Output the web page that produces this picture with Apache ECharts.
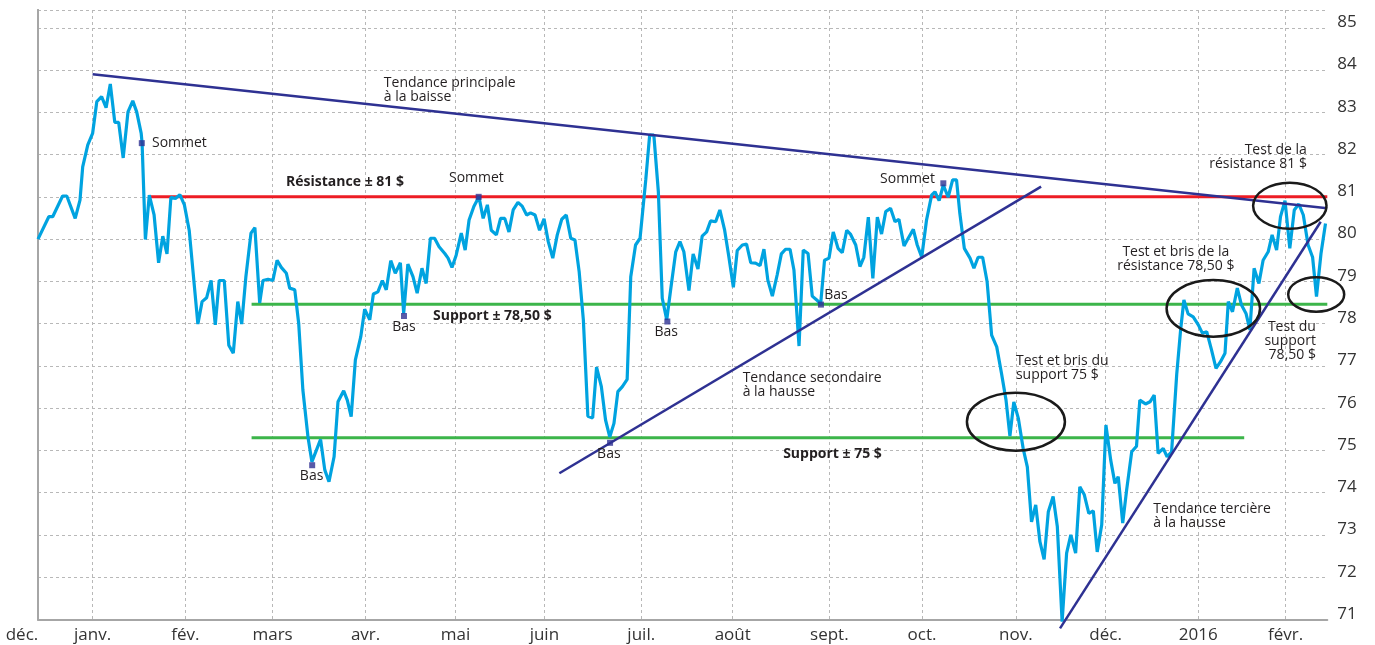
<!DOCTYPE html>
<html>
<head>
<meta charset="utf-8">
<script src="https://cdn.jsdelivr.net/npm/echarts@6/dist/echarts.min.js"></script>
<style>
  html, body { margin: 0; padding: 0; background: #fff; }
  #main { width: 1375px; height: 645px; }
</style>
</head>
<body>
<div id="main"></div>
<script>
// x : jours depuis le bord gauche du graphique (mi-décembre 2014), y : cours en $
var jours = [
  0, 3.6, 4.9, 8.2, 9.6, 12.4, 14.0, 14.9, 16.6, 18.2,
  19.6, 21.2, 22.7, 24.1, 25.6, 26.9, 28.4, 30.0, 31.6, 32.9,
  34.4, 34.7, 35.8, 37.1, 38.7, 40.2, 41.6, 43.0, 44.3, 45.8,
  47.3, 48.8, 50.4, 53.3, 54.7, 56.2, 57.7, 59.1, 60.4, 62.1,
  63.6, 65.1, 66.6, 67.9, 69.3, 71.0, 72.3, 73.9, 75.0, 76.7,
  78.3, 79.7, 81.1, 82.8, 83.9, 85.6, 86.9, 88.3, 90.0, 91.3,
  94.2, 95.6, 97.0, 98.7, 100.0, 101.9, 103.1, 104.4, 105.8, 107.6,
  108.9, 110.6, 111.8, 113.3, 114.8, 116.1, 117.6, 119.1, 120.8, 121.9,
  123.3, 125.0, 126.4, 128.0, 129.4, 130.8, 132.2, 133.7, 135.6, 136.7,
  138.0, 139.4, 141.1, 142.4, 143.7, 145.3, 147.0, 148.4, 149.8, 151.1,
  152.8, 154.2, 155.6, 157.0, 158.4, 160.0, 161.4, 162.9, 164.2, 165.7,
  167.2, 168.7, 170.1, 171.6, 173.1, 174.6, 176.1, 177.6, 179.0, 180.4,
  181.8, 183.3, 184.9, 186.2, 187.8, 189.2, 190.6, 192.0, 193.3, 194.8,
  196.4, 197.6, 199.2, 200.7, 202.6, 203.9, 205.3, 206.8, 208.1, 209.6,
  210.9, 212.6, 214.0, 215.3, 217.0, 218.4, 220.0, 221.4, 222.9, 224.2,
  225.9, 227.3, 228.9, 230.3, 231.8, 233.1, 234.8, 236.2, 237.6, 239.2,
  240.7, 242.0, 243.3, 244.8, 246.4, 247.8, 249.2, 250.7, 252.0, 253.7,
  255.1, 256.7, 258.1, 259.6, 260.9, 262.2, 263.7, 265.1, 266.7, 268.1,
  269.6, 270.9, 272.6, 274.0, 275.3, 276.8, 278.3, 279.8, 281.2, 282.6,
  284.2, 285.7, 287.0, 288.7, 290.1, 291.8, 293.1, 294.6, 296.2, 297.9,
  299.0, 300.4, 301.8, 303.4, 304.9, 306.2, 307.3, 308.8, 310.7, 312.0,
  313.4, 314.9, 316.4, 317.9, 319.6, 321.2, 322.7, 324.0, 325.3, 326.8,
  328.4, 329.8, 331.2, 332.6, 334.0, 335.4, 336.8, 338.4, 339.8, 341.4,
  342.9, 344.3, 345.9, 347.3, 348.8, 350.3, 351.8, 353.1, 354.6, 356.0,
  357.6, 359.0, 360.1, 361.6, 362.9, 364.6, 366.2, 367.3, 369.2, 370.7,
  372.1, 373.4, 375.1, 376.4, 377.9, 379.6, 380.9, 382.0, 383.4, 385.1,
  386.8, 388.2, 389.6, 391.2, 392.7, 394.2, 395.7, 396.8, 398.2, 399.8,
  401.2, 402.7, 404.0, 405.4, 407.0, 408.4, 410.1, 411.4, 412.9, 414.2,
  415.7, 417.3, 418.8, 420.3, 421.8, 423.4, 424.9, 426.2, 427.7, 429.2
];
var cours = [
  80.0, 80.53, 80.53, 81.02, 81.02, 80.49, 80.92, 81.71, 82.23, 82.50,
  83.25, 83.37, 83.11, 83.67, 82.76, 82.76, 81.92, 83.01, 83.27, 83.01,
  82.50, 82.27, 79.99, 81.04, 80.57, 79.44, 80.07, 79.65, 80.99, 80.96,
  81.05, 80.81, 80.21, 77.99, 78.52, 78.61, 79.02, 77.97, 79.02, 79.02,
  77.49, 77.30, 78.52, 77.99, 79.11, 80.14, 80.27, 78.49, 79.02, 79.05,
  79.02, 79.50, 79.33, 79.19, 78.84, 78.80, 78.01, 76.43, 75.32, 74.73,
  75.26, 74.54, 74.26, 74.85, 76.15, 76.41, 76.19, 75.80, 77.14, 77.69,
  78.34, 78.09, 78.70, 78.75, 79.02, 78.80, 79.49, 79.19, 79.44, 78.24,
  79.41, 79.11, 78.72, 79.31, 78.95, 80.02, 80.02, 79.82, 79.66, 79.55,
  79.33, 79.62, 80.14, 79.74, 80.45, 80.77, 81.00, 80.49, 80.81, 80.21,
  80.10, 80.49, 80.49, 80.17, 80.69, 80.87, 80.78, 80.57, 80.62, 80.57,
  80.21, 80.48, 79.94, 79.55, 80.10, 80.47, 80.57, 80.02, 79.98, 79.23,
  78.09, 75.81, 75.77, 76.97, 76.51, 75.72, 75.32, 75.64, 76.39, 76.51,
  76.68, 79.11, 79.86, 80.02, 81.40, 82.46, 82.46, 81.12, 78.60, 78.09,
  78.80, 79.70, 79.94, 79.70, 78.78, 79.65, 79.29, 80.07, 80.17, 80.43,
  80.41, 80.69, 80.21, 79.58, 78.86, 79.73, 79.86, 79.88, 79.44, 79.43,
  79.37, 79.76, 79.03, 78.65, 79.15, 79.65, 79.76, 79.76, 79.27, 77.47,
  79.74, 79.66, 78.65, 78.56, 78.46, 79.50, 79.55, 80.17, 79.78, 79.68,
  80.21, 80.11, 79.86, 79.35, 79.57, 80.52, 79.07, 80.52, 80.12, 80.65,
  80.73, 80.41, 80.47, 79.84, 80.02, 80.23, 79.86, 79.57, 80.45, 81.04,
  81.12, 80.91, 81.28, 80.99, 81.40, 81.40, 80.61, 79.78, 79.55, 79.31,
  79.57, 79.57, 78.99, 77.73, 77.45, 76.82, 76.19, 75.34, 76.15, 75.76,
  75.05, 74.61, 73.31, 73.71, 72.84, 72.42, 73.55, 73.91, 73.20, 70.95,
  72.57, 73.00, 72.57, 74.14, 73.95, 73.51, 73.57, 72.60, 73.24, 75.60,
  74.77, 74.22, 74.38, 73.28, 74.06, 74.97, 75.10, 76.19, 76.10, 76.15,
  76.31, 74.93, 75.05, 74.85, 74.97, 76.80, 77.85, 78.56, 78.23, 78.16,
  77.97, 77.77, 77.81, 77.38, 76.94, 77.10, 77.30, 78.52, 78.28, 78.84,
  78.44, 78.24, 77.85, 79.31, 78.95, 79.50, 79.70, 80.10, 79.74, 80.53,
  80.91, 79.78, 80.69, 80.83, 80.57, 79.86, 79.57, 78.64, 79.66, 80.37
];

// débuts de mois sur l'axe des x
var moisPos = [18.2, 49.1, 78.2, 109.2, 139.2, 168.8, 201.1, 231.6, 263.8, 294.7, 326.0, 355.9, 386.8, 415.9];
var moisNoms = ['janv.', 'fév.', 'mars', 'avr.', 'mai', 'juin', 'juil.', 'août', 'sept.', 'oct.', 'nov.', 'déc.', '2016', 'févr.'];

// niveaux et tendances
var resistance81 = [[37, 81], [429.8, 81]];
var support7850 = [[71.2, 78.46], [429.8, 78.46]];
var support75 = [[71.2, 75.3], [402.1, 75.3]];
var tendPrincipale = [[18.2, 83.9], [429.8, 80.73]];
var tendSecondaire = [[173.8, 74.46], [334.4, 81.24]];
var tendTertiaire = [[340.7, 70.79], [427.6, 80.41]];

// points « Sommet » et « Bas »
var reperes = [[34.6, 82.27], [146.9, 81.0], [301.8, 81.32], [91.4, 74.65], [122.0, 78.18], [209.8, 78.05], [190.7, 75.18], [261.0, 78.45]];

// textes : [x, y, texte, alignement, gras]
var notes = [
  [38.0, 82.27, 'Sommet', 'left', false],
  [115.3, 83.53, 'Tendance principale\nà la baisse', 'left', false],
  [82.7, 81.35, 'Résistance ± 81 $', 'left', true],
  [137.0, 81.445, 'Sommet', 'left', false],
  [299.0, 81.41, 'Sommet', 'right', false],
  [91.2, 74.39, 'Bas', 'center', false],
  [122.0, 77.93, 'Bas', 'center', false],
  [131.7, 78.18, 'Support ± 78,50 $', 'left', true],
  [209.4, 77.80, 'Bas', 'center', false],
  [190.3, 74.92, 'Bas', 'center', false],
  [262.1, 78.68, 'Bas', 'left', false],
  [234.9, 76.55, 'Tendance secondaire\nà la hausse', 'left', false],
  [248.4, 74.91, 'Support ± 75 $', 'left', true],
  [326.0, 76.95, 'Test et bris du\nsupport 75 $', 'left', false],
  [379.3, 79.54, 'Test et bris de la\nrésistance 78,50 $', 'center', false],
  [423.0, 81.95, 'Test de la\nrésistance 81 $', 'right', false],
  [426.0, 77.59, 'Test du\nsupport\n78,50 $', 'right', false],
  [371.8, 73.45, 'Tendance tercière\nà la hausse', 'left', false]
];

// ellipses : [x, y, rayon x px, rayon y px]
var cercles = [[326.0, 75.68, 49, 29], [391.8, 78.36, 46.7, 28.3], [417.3, 80.79, 36.7, 23], [426.1, 78.69, 28, 17.2]];

var bleu = '#00a3e0';
var marine = '#2e3192';
var police = '"Open Sans", "Noto Sans", sans-serif';

function paires(xs, ys) {
    return xs.map(function (x, i) { return [x, ys[i]]; });
}

function ligne(data, color, width, z) {
    return { type: 'line', data: data, symbol: 'none', clip: false, z: z, silent: true,
        lineStyle: { color: color, width: width } };
}

var chart = echarts.init(document.getElementById('main'));

chart.setOption({
    animation: false,
    grid: { left: 38, right: 47.7, top: 10, bottom: 25.5, outerBoundsMode: 'none' },
    xAxis: {
        type: 'value', min: 0, max: 429.8,
        axisLine: { show: true, lineStyle: { color: '#a6a6a6', width: 2 } },
        axisTick: { show: false, customValues: moisPos },
        splitLine: { show: true, lineStyle: { color: '#b8b8b8', width: 1, type: [3, 3] } },
        axisLabel: {
            customValues: [0].concat(moisPos),
            color: '#333', fontSize: 17, fontFamily: police, margin: 7,
            formatter: function (v) {
                if (v === 0) return '{d|déc.}';
                var i = moisPos.indexOf(v);
                return i >= 0 ? moisNoms[i] : '';
            },
            rich: { d: { fontSize: 17, fontFamily: police, color: '#333', padding: [0, 32, 0, 0] } }
        }
    },
    yAxis: [{
        type: 'value', position: 'right', min: 71, max: 85.42, interval: 1,
        axisLine: { show: true, lineStyle: { color: '#a6a6a6', width: 2 } },
        axisTick: { show: false },
        splitLine: { show: true, lineStyle: { color: '#b8b8b8', width: 1, type: [3, 3] } },
        axisLabel: {
            color: '#333', fontSize: 17, fontFamily: police, margin: 10,
            verticalAlign: 'bottom', lineHeight: 11,
            formatter: function (v) { return Math.abs(v - Math.round(v)) < 1e-6 ? String(Math.round(v)) : ''; }
        }
    }, {
        type: 'value', position: 'left', min: 71, max: 85.42, interval: 1,
        axisLine: { show: true, lineStyle: { color: '#a6a6a6', width: 2 } },
        axisTick: { show: false }, axisLabel: { show: false }, splitLine: { show: false }
    }],
    series: [
        ligne(resistance81, '#ed1c24', 3, 2),
        ligne(support7850, '#3cb54a', 3, 2),
        ligne(support75, '#3cb54a', 3, 2),
        ligne(paires(jours, cours), bleu, 3.2, 3),
        ligne(tendPrincipale, marine, 2.5, 4),
        ligne(tendSecondaire, marine, 2.5, 4),
        ligne(tendTertiaire, marine, 2.5, 4),
        { type: 'scatter', data: reperes, symbol: 'rect', symbolSize: 6, z: 5, silent: true,
          itemStyle: { color: marine } }
    ]
});

var graphics = [];
notes.forEach(function (n) {
    var p = chart.convertToPixel({ gridIndex: 0 }, [n[0], n[1]]);
    graphics.push({
        type: 'text', x: p[0], y: p[1], z: 100, silent: true,
        style: {
            text: n[2], fill: '#231f20', align: n[3], verticalAlign: 'middle', lineHeight: 14,
            font: (n[4] ? 'bold 14px ' : '14px ') + police
        }
    });
});
cercles.forEach(function (c) {
    var p = chart.convertToPixel({ gridIndex: 0 }, [c[0], c[1]]);
    graphics.push({
        type: 'ellipse', z: 100, silent: true,
        shape: { cx: p[0], cy: p[1], rx: c[2], ry: c[3] },
        style: { fill: 'none', stroke: '#1a1a1a', lineWidth: 2.5 }
    });
});
chart.setOption({ graphic: graphics });
</script>
</body>
</html>
